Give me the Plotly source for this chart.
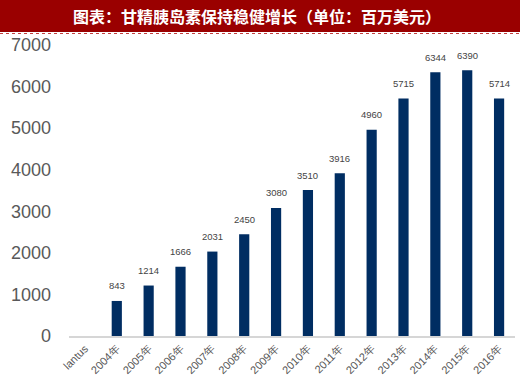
import plotly.graph_objects as go

categories = ["lantus", "2004年", "2005年", "2006年", "2007年", "2008年", "2009年",
              "2010年", "2011年", "2012年", "2013年", "2014年", "2015年", "2016年"]
values = [None, 843, 1214, 1666, 2031, 2450, 3080, 3510, 3916, 4960, 5715, 6344, 6390, 5714]
y_ticks = [0, 1000, 2000, 3000, 4000, 5000, 6000, 7000]

W, H = 520, 381
ml, mr, mt, mb = 69, 5, 45, 45
pw = W - ml - mr
ph = H - mt - mb

def px_x(x):
    return (x - ml) / pw

def px_y(y):
    return 1 + (mt - y) / ph

fig = go.Figure(go.Bar(
    x=categories, y=values,
    marker=dict(color="#002d62", line=dict(width=0)),
    cliponaxis=False, width=0.32,
))

value_labels = [
    dict(x=c, y=v, text=str(v), xref="x", yref="y", showarrow=False,
         yanchor="middle", yshift=15,
         font=dict(size=9.5, color="#444444", family="Liberation Sans"))
    for c, v in zip(categories, values) if v is not None
]

fig.update_layout(
    width=W, height=H, margin=dict(l=ml, r=mr, t=mt, b=mb),
    plot_bgcolor="white", paper_bgcolor="white", showlegend=False,
    font=dict(family="Liberation Sans"),
    xaxis=dict(tickangle=-45, tickfont=dict(size=11, color="#555555"),
               showline=True, linecolor="#d6d6d6", linewidth=2, ticks="",
               showgrid=False, automargin=False),
    yaxis=dict(range=[0, 7000], tickvals=y_ticks, showgrid=False, zeroline=False,
               tickfont=dict(size=18, color="#595959"), ticks="", ticklabelstandoff=17,
               automargin=False),
    shapes=[
        dict(type="rect", xref="paper", yref="paper",
             x0=px_x(0), x1=px_x(W), y0=px_y(32), y1=px_y(0),
             fillcolor="#9a0000", line=dict(width=0), layer="above"),
        dict(type="line", xref="paper", yref="paper",
             x0=px_x(0), x1=px_x(W), y0=px_y(33.5), y1=px_y(33.5),
             line=dict(color="#c04040", width=1, dash="dot")),
    ],
    annotations=value_labels + [
        dict(text="<b>图表：甘精胰岛素保持稳健增长（单位：百万美元）</b>",
             xref="paper", yref="paper", x=px_x(257), y=px_y(16),
             xanchor="center", yanchor="middle", showarrow=False,
             font=dict(size=16, color="white", family="Noto Sans CJK SC")),
    ],
)

fig.write_html("out.html", config={"displayModeBar": False},
               post_script="document.body.style.margin='0';document.body.style.overflow='hidden';")
